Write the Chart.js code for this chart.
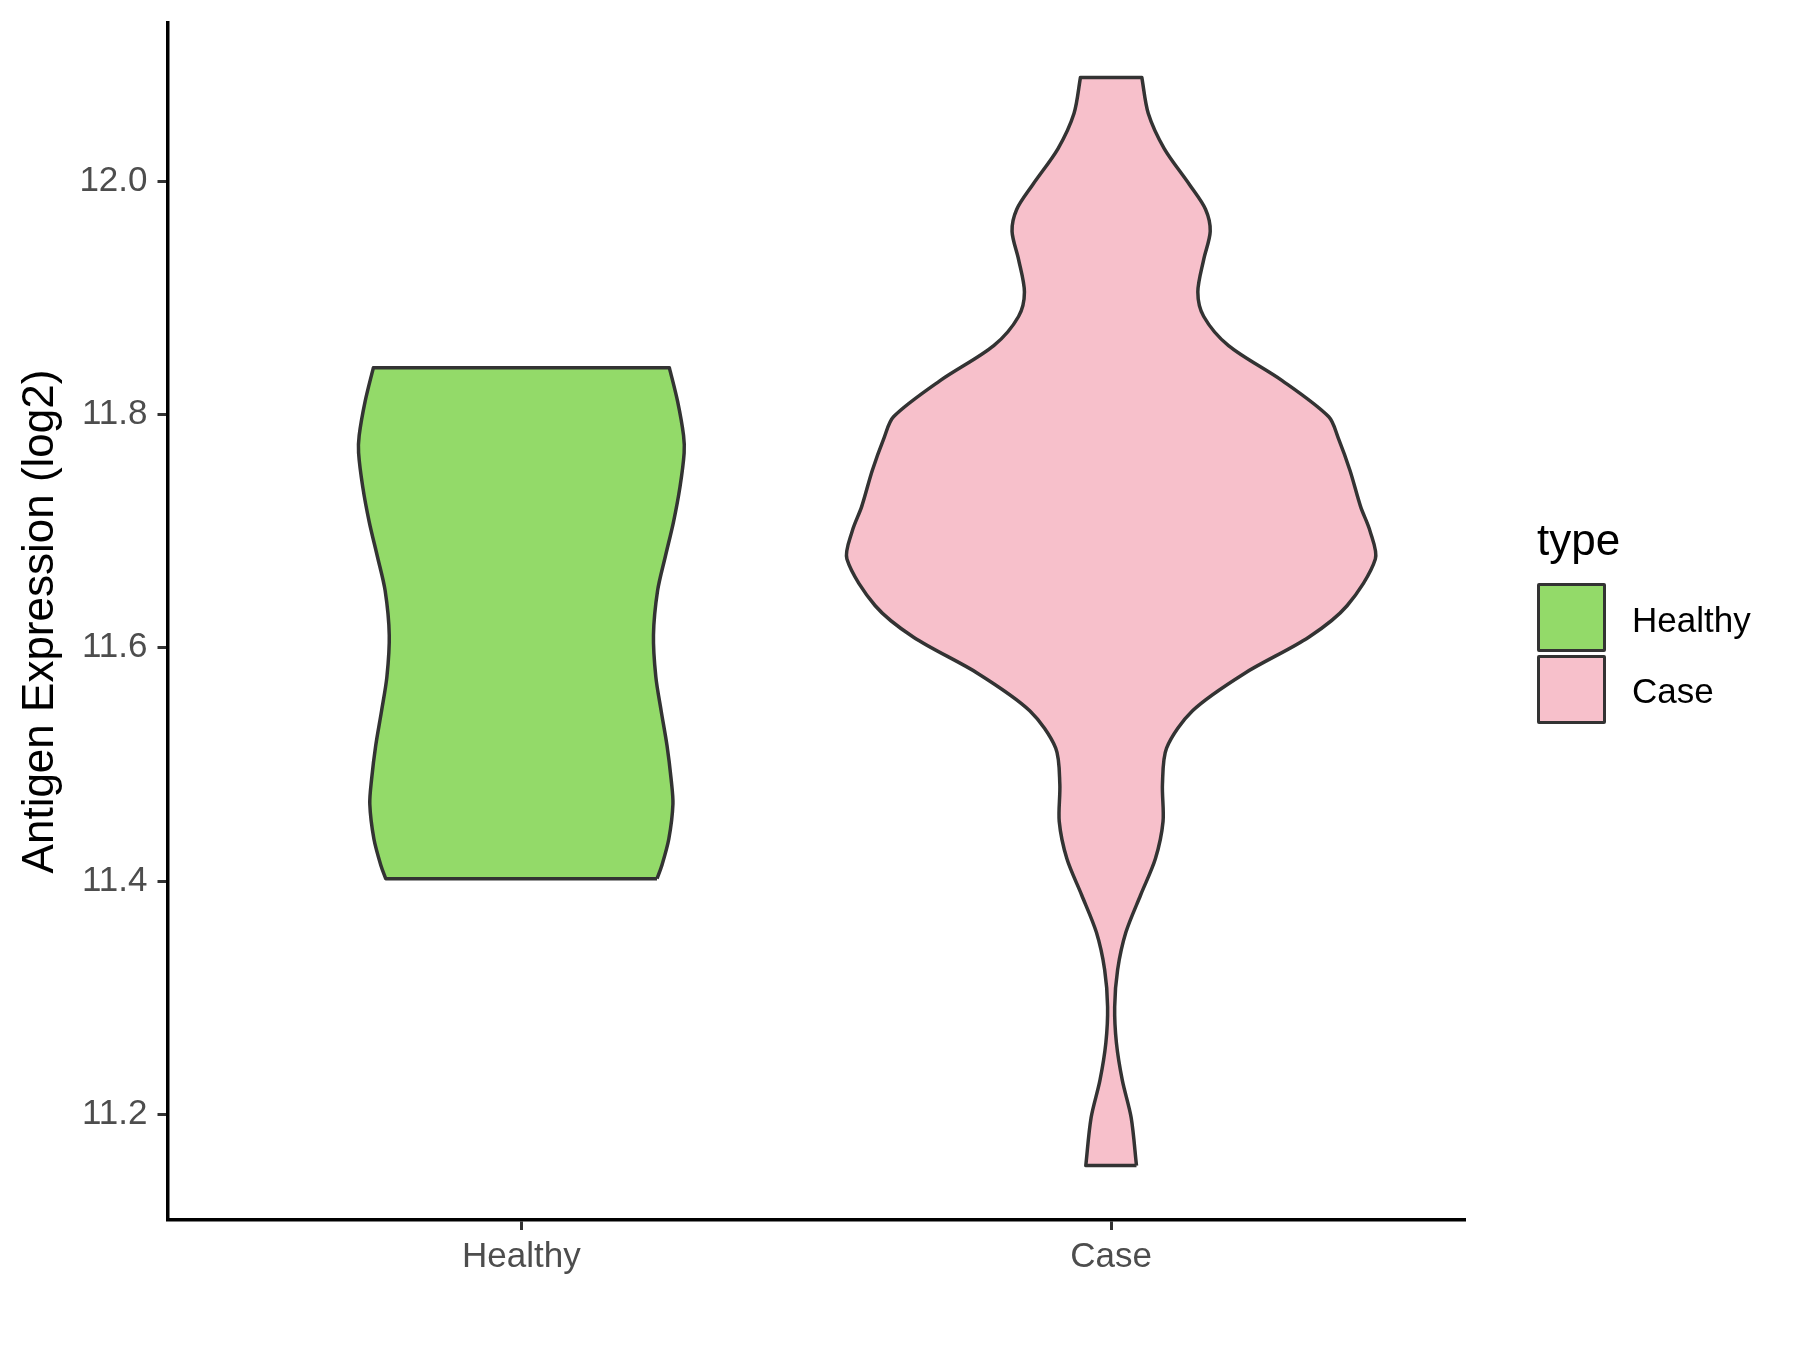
<!DOCTYPE html>
<html>
<head>
<meta charset="utf-8">
<script src="https://cdn.jsdelivr.net/npm/chart.js@4/dist/chart.umd.min.js"></script>
<style>
  html, body { margin: 0; padding: 0; background: #fff; }
  #wrap { position: relative; width: 1800px; height: 1350px; font-family: "Liberation Sans", Arial, sans-serif; }
  .legend-title { position: absolute; left: 1537px; top: 518px; font-size: 44px; line-height: 44px; color: #000; }
  .legend-key { position: absolute; left: 1537px; width: 69px; height: 69px; box-sizing: border-box; border: 3.5px solid #333; border-radius: 2px; }
  .legend-label { position: absolute; left: 1632px; font-size: 35px; line-height: 35px; color: #000; }
</style>
</head>
<body>
<div id="wrap">
  <canvas id="chart" width="1800" height="1350"></canvas>
  <div class="legend-title">type</div>
  <div class="legend-key" style="top:583px;background:#93DA69"></div>
  <div class="legend-label" style="top:602px">Healthy</div>
  <div class="legend-key" style="top:655px;background:#F7C0CB"></div>
  <div class="legend-label" style="top:673px">Case</div>
</div>
<script>
const categories = ["Healthy", "Case"];
const yTicks = [11.2, 11.4, 11.6, 11.8, 12.0];
const fills = ["#93DA69", "#F7C0CB"];

// violin outlines: y value and half width (x units)
const healthyY = [11.402, 11.413, 11.436, 11.466, 11.487, 11.516, 11.546, 11.575, 11.611, 11.649, 11.678, 11.708, 11.738, 11.767, 11.782, 11.811, 11.840];
const healthyHalfWidth = [0.230, 0.238, 0.250, 0.257, 0.254, 0.247, 0.237, 0.228, 0.224, 0.231, 0.244, 0.258, 0.269, 0.276, 0.275, 0.265, 0.251];

const caseY = [11.156, 11.197, 11.229, 11.261, 11.292, 11.324, 11.356, 11.388, 11.419, 11.451, 11.483, 11.514, 11.546, 11.578, 11.609, 11.636, 11.676, 11.700, 11.721, 11.752, 11.780, 11.798, 11.829, 11.859, 11.884, 11.905, 11.933, 11.957, 11.976, 11.997, 12.028, 12.058, 12.089];
const caseHalfWidth = [0.043, 0.034, 0.019, 0.009, 0.006, 0.011, 0.025, 0.050, 0.075, 0.088, 0.087, 0.094, 0.138, 0.226, 0.335, 0.400, 0.448, 0.439, 0.423, 0.405, 0.385, 0.369, 0.290, 0.199, 0.157, 0.147, 0.157, 0.168, 0.160, 0.133, 0.090, 0.063, 0.052];

// right side up, left side down; corners repeated so the flat ends stay straight
function violinOutline(center, ys, halfWidths) {
  const right = ys.map((y, i) => ({ x: center + halfWidths[i], y }));
  const left = ys.map((y, i) => ({ x: center - halfWidths[i], y })).reverse();
  return [...right, right.at(-1), left[0], ...left, left.at(-1), right[0], right[0]];
}

const allY = healthyY.concat(caseY);
const yLo = Math.min(...allY);
const yHi = Math.max(...allY);
const yPad = (yHi - yLo) * 0.05;

const font = "'Liberation Sans', Arial, sans-serif";

new Chart(document.getElementById("chart"), {
  type: "scatter",
  data: {
    datasets: [
      { label: categories[0], data: violinOutline(1, healthyY, healthyHalfWidth), backgroundColor: fills[0] },
      { label: categories[1], data: violinOutline(2, caseY, caseHalfWidth), backgroundColor: fills[1] },
    ].map((ds) => ({
      ...ds,
      showLine: true,
      fill: "shape",
      borderColor: "#333333",
      borderWidth: 3.5,
      borderJoinStyle: "round",
      pointRadius: 0,
      pointHoverRadius: 0,
      tension: 0.3,
    })),
  },
  options: {
    responsive: false,
    animation: false,
    devicePixelRatio: 1,
    layout: { padding: { left: 0, right: 335, top: 23, bottom: 0 } },
    plugins: { legend: { display: false }, tooltip: { enabled: false } },
    scales: {
      x: {
        type: "linear",
        min: 0.4,
        max: 2.6,
        afterBuildTicks: (scale) => { scale.ticks = [{ value: 1 }, { value: 2 }]; },
        afterFit: (scale) => { scale.height = 130; scale.paddingLeft = 0; scale.paddingRight = 0; },
        ticks: {
          callback: (value) => categories[Math.round(value) - 1],
          color: "#4d4d4d",
          font: { family: font, size: 35 },
          padding: 6,
          maxRotation: 0,
        },
        grid: { drawOnChartArea: false, drawTicks: true, tickLength: 10, tickColor: "#333333", tickWidth: 3 },
        border: { display: true, color: "#000", width: 3.5 },
      },
      y: {
        min: yLo - yPad,
        max: yHi + yPad,
        afterBuildTicks: (scale) => { scale.ticks = yTicks.map((v) => ({ value: v })); },
        afterFit: (scale) => { scale.width = 167.5; scale.paddingTop = 0; scale.paddingBottom = 0; },
        ticks: {
          callback: (value) => value.toFixed(1),
          color: "#4d4d4d",
          font: { family: font, size: 35 },
          padding: 10,
        },
        title: {
          display: true,
          text: "Antigen Expression (log2)",
          color: "#000",
          font: { family: font, size: 44 },
          padding: { top: 14, bottom: 0 },
        },
        grid: { drawOnChartArea: false, drawTicks: true, tickLength: 10, tickColor: "#333333", tickWidth: 3 },
        border: { display: true, color: "#000", width: 3.5 },
      },
    },
  },
});
</script>
</body>
</html>
